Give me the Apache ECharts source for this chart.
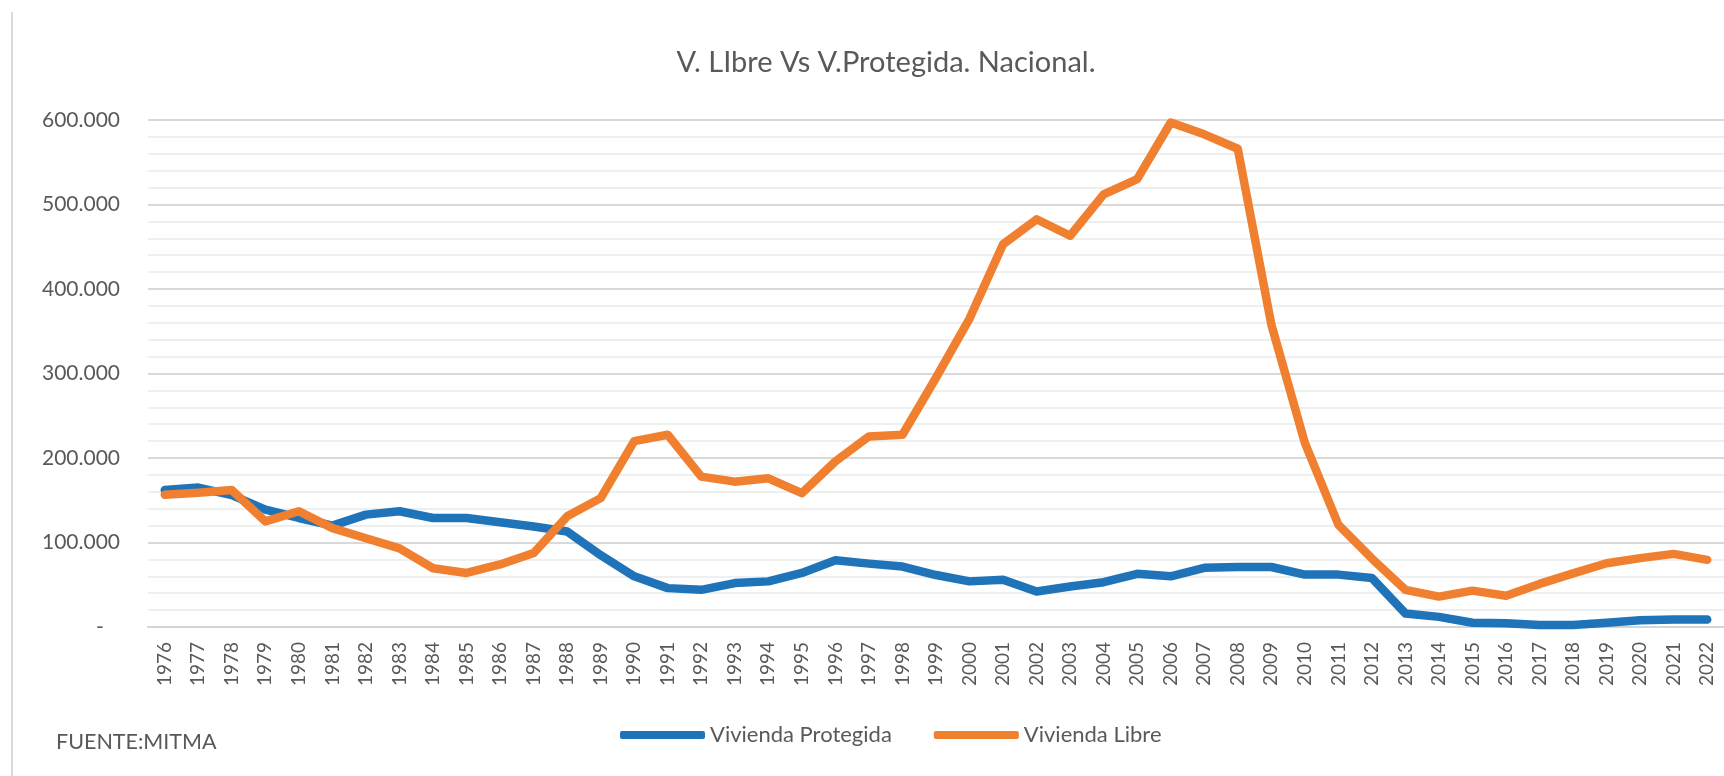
<!DOCTYPE html>
<html>
<head>
<meta charset="utf-8">
<title>V. LIbre Vs V.Protegida. Nacional.</title>
<script src="https://cdn.jsdelivr.net/npm/echarts@6/dist/echarts.min.js"></script>
<style>
    html, body { margin: 0; padding: 0; background: #fff; }
    #chart-container { width: 1724px; height: 776px; }
</style>
</head>
<body>
<div id="chart-container"></div>
<script>
var TITLE = 'V. LIbre Vs V.Protegida. Nacional.';
var SOURCE = 'FUENTE:MITMA';
var NAME_PROTEGIDA = 'Vivienda Protegida';
var NAME_LIBRE = 'Vivienda Libre';

var years = ['1976', '1977', '1978', '1979', '1980', '1981', '1982', '1983', '1984', '1985',
    '1986', '1987', '1988', '1989', '1990', '1991', '1992', '1993', '1994', '1995',
    '1996', '1997', '1998', '1999', '2000', '2001', '2002', '2003', '2004', '2005',
    '2006', '2007', '2008', '2009', '2010', '2011', '2012', '2013', '2014', '2015',
    '2016', '2017', '2018', '2019', '2020', '2021', '2022'];

var protegida = [162000, 165000, 156000, 139000, 129000, 120000, 133000, 137000, 129000, 129000,
    124000, 119000, 113000, 85000, 60000, 46000, 44000, 52000, 54000, 64000,
    79000, 75000, 71500, 61500, 54000, 56000, 42000, 48000, 53000, 63000,
    60000, 70000, 71000, 71000, 62000, 62000, 58000, 16000, 12000, 5000,
    4500, 2500, 2500, 5000, 8000, 9000, 9000];

var libre = [156500, 159000, 162000, 125000, 137000, 117000, 105000, 93000, 69500, 64000,
    74000, 87500, 131000, 152500, 220000, 227500, 178000, 172000, 176000, 158500,
    196000, 225500, 227500, 295000, 365000, 453000, 482500, 463000, 512000, 530000,
    597000, 583000, 566000, 358000, 218000, 121000, 81000, 44000, 36000, 43000,
    37000, 51000, 63500, 75500, 81500, 86500, 79500];

var yMax = 600000;
var yStep = 100000;

var colors = ['#1f73b8', '#f0802f'];
var textColor = '#595959';
var fontName = 'Lato, "Open Sans", sans-serif';

function thousands(v) {
    if (v === 0) return '-   ';
    return String(v).replace(/\B(?=(\d{3})+(?!\d))/g, '.');
}

var myChart = echarts.init(document.getElementById('chart-container'));

var option = {
    animation: false,
    color: colors,
    textStyle: { fontFamily: fontName },
    graphic: [
        {
            type: 'line',
            shape: { x1: 12, y1: 12, x2: 12, y2: 776 },
            style: { stroke: '#d9d9d9', lineWidth: 2 }
        },
        {
            type: 'text',
            x: 886,
            y: 63,
            style: {
                text: TITLE,
                fill: textColor,
                font: '29px ' + fontName,
                textAlign: 'center',
                textVerticalAlign: 'middle'
            }
        },
        {
            type: 'text',
            x: 56,
            y: 742,
            style: {
                text: SOURCE,
                fill: textColor,
                font: '21.5px ' + fontName,
                textAlign: 'left',
                textVerticalAlign: 'middle'
            }
        }
    ],
    legend: {
        left: 615,
        top: 719,
        itemWidth: 85,
        itemHeight: 8,
        itemGap: 42,
        icon: 'roundRect',
        textStyle: { color: textColor, fontSize: 22, fontFamily: fontName },
        data: [NAME_PROTEGIDA, NAME_LIBRE]
    },
    grid: {
        left: 148,
        right: -6,
        top: 120,
        bottom: 149
    },
    xAxis: {
        type: 'category',
        data: years,
        boundaryGap: true,
        axisLine: { lineStyle: { color: '#d4d4d4', width: 2 } },
        axisTick: { show: false },
        axisLabel: {
            interval: 0,
            rotate: 90,
            margin: 15,
            color: textColor,
            fontSize: 19,
            fontFamily: fontName
        }
    },
    yAxis: {
        type: 'value',
        min: 0,
        max: yMax,
        interval: yStep,
        axisLine: { show: false },
        axisTick: { show: false },
        axisLabel: {
            margin: 28,
            color: textColor,
            fontSize: 21,
            fontFamily: fontName,
            formatter: thousands
        },
        splitLine: { lineStyle: { color: '#d9d9d9', width: 2 } },
        minorTick: { show: false, splitNumber: 5 },
        minorSplitLine: { show: true, lineStyle: { color: '#eef0f0', width: 2 } }
    },
    series: [
        {
            name: NAME_PROTEGIDA,
            type: 'line',
            data: protegida,
            symbol: 'none',
            lineStyle: { width: 8.5, cap: 'round', join: 'round' }
        },
        {
            name: NAME_LIBRE,
            type: 'line',
            data: libre,
            symbol: 'none',
            lineStyle: { width: 8.5, cap: 'round', join: 'round' }
        }
    ]
};
myChart.setOption(option);
</script>
</body>
</html>
